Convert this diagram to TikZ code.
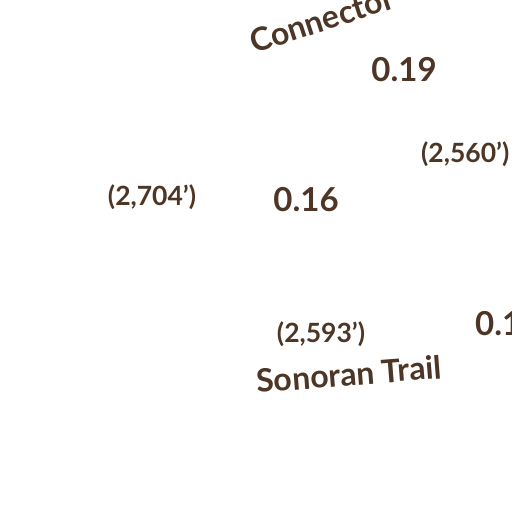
\documentclass[tikz,border=0pt]{standalone}
\usepackage{fontspec}
\setmainfont{Lato}
\definecolor{trailbrown}{RGB}{77,54,38}

\begin{document}
\begin{tikzpicture}[
		x=1pt, y=-1pt,
		every node/.style={text=trailbrown, inner sep=0pt},
		trailname/.style={font=\bfseries\fontsize{32}{32}\selectfont, anchor=base west},
		distlabel/.style={font=\bfseries\fontsize{33}{33}\selectfont},
		elevtext/.style={font=\bfseries\fontsize{26.5}{26.5}\selectfont}
		]
		\clip (0,0) rectangle (512,512);
		\fill[white] (0,0) rectangle (512,512);
		\node[trailname, rotate=18] (connector) at (254,54) {Connector};
		\node[distlabel] (d019) at (404,70) {0.19};
		\node[elevtext, anchor=west] (e2560) at (421,154) {(2,560’)};
		\node[elevtext] (e2704) at (152,197) {(2,704’)};
		\node[distlabel] (d016) at (306,200) {0.16};
		\node[elevtext] (e2593) at (321,334) {(2,593’)};
		\node[distlabel, anchor=west] (d01) at (475,324) {0.1};
		\node[trailname, rotate=4.5] (sonoran) at (257,393) {Sonoran Trail};
	\end{tikzpicture}
\end{document}
